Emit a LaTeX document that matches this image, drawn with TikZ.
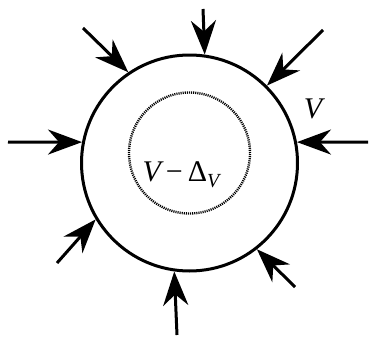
\documentclass[tikz,border=0pt]{standalone}
\usepackage{fontspec}
\setmainfont{Liberation Serif}
\usetikzlibrary{arrows.meta}
\tikzset{
  font=\fontsize{30}{32}\selectfont,
  >={Stealth[length=34pt,width=25pt,inset=11pt]},
  wall/.style={circle,draw=black,line width=3pt,minimum size=216pt,inner sep=0pt},
  core/.style={circle,draw=black,line width=2.4pt,dash pattern=on 1.1pt off 1pt,minimum size=121pt,inner sep=0pt},
  push/.style={->,draw=black,line width=3pt},
  vol/.style={inner sep=0pt,font=\fontsize{30}{32}\selectfont\itshape}
}
\begin{document}
\begin{tikzpicture}[x=1pt,y=1pt]
  \useasboundingbox (0,0) rectangle (369,341);

  \node[wall] (outer) at (189.5,178) {};
  \node[core] (inner) at (189.5,188) {};

  \node[vol] (vin) at (181,166) {V\,\upshape−\,Δ\raisebox{-0.4ex}{\fontsize{20}{22}\selectfont\itshape V}};
  \node[vol] (vout) at (313,232) {V};

  % pushes from outside onto the wall
  \foreach \n/\x/\y/\a in {t/203/332/82.7, tl/83/313/124.7, tr/323/311/45.2,
      l/8/199/169, r/368/199/11, bl/57/78/211.9, b/177/6/262.9, br/295/54/308}{
    \coordinate (s\n) at (\x,\y);
    \draw[push] (s\n) -- (outer.\a);
  }
\end{tikzpicture}
\end{document}
